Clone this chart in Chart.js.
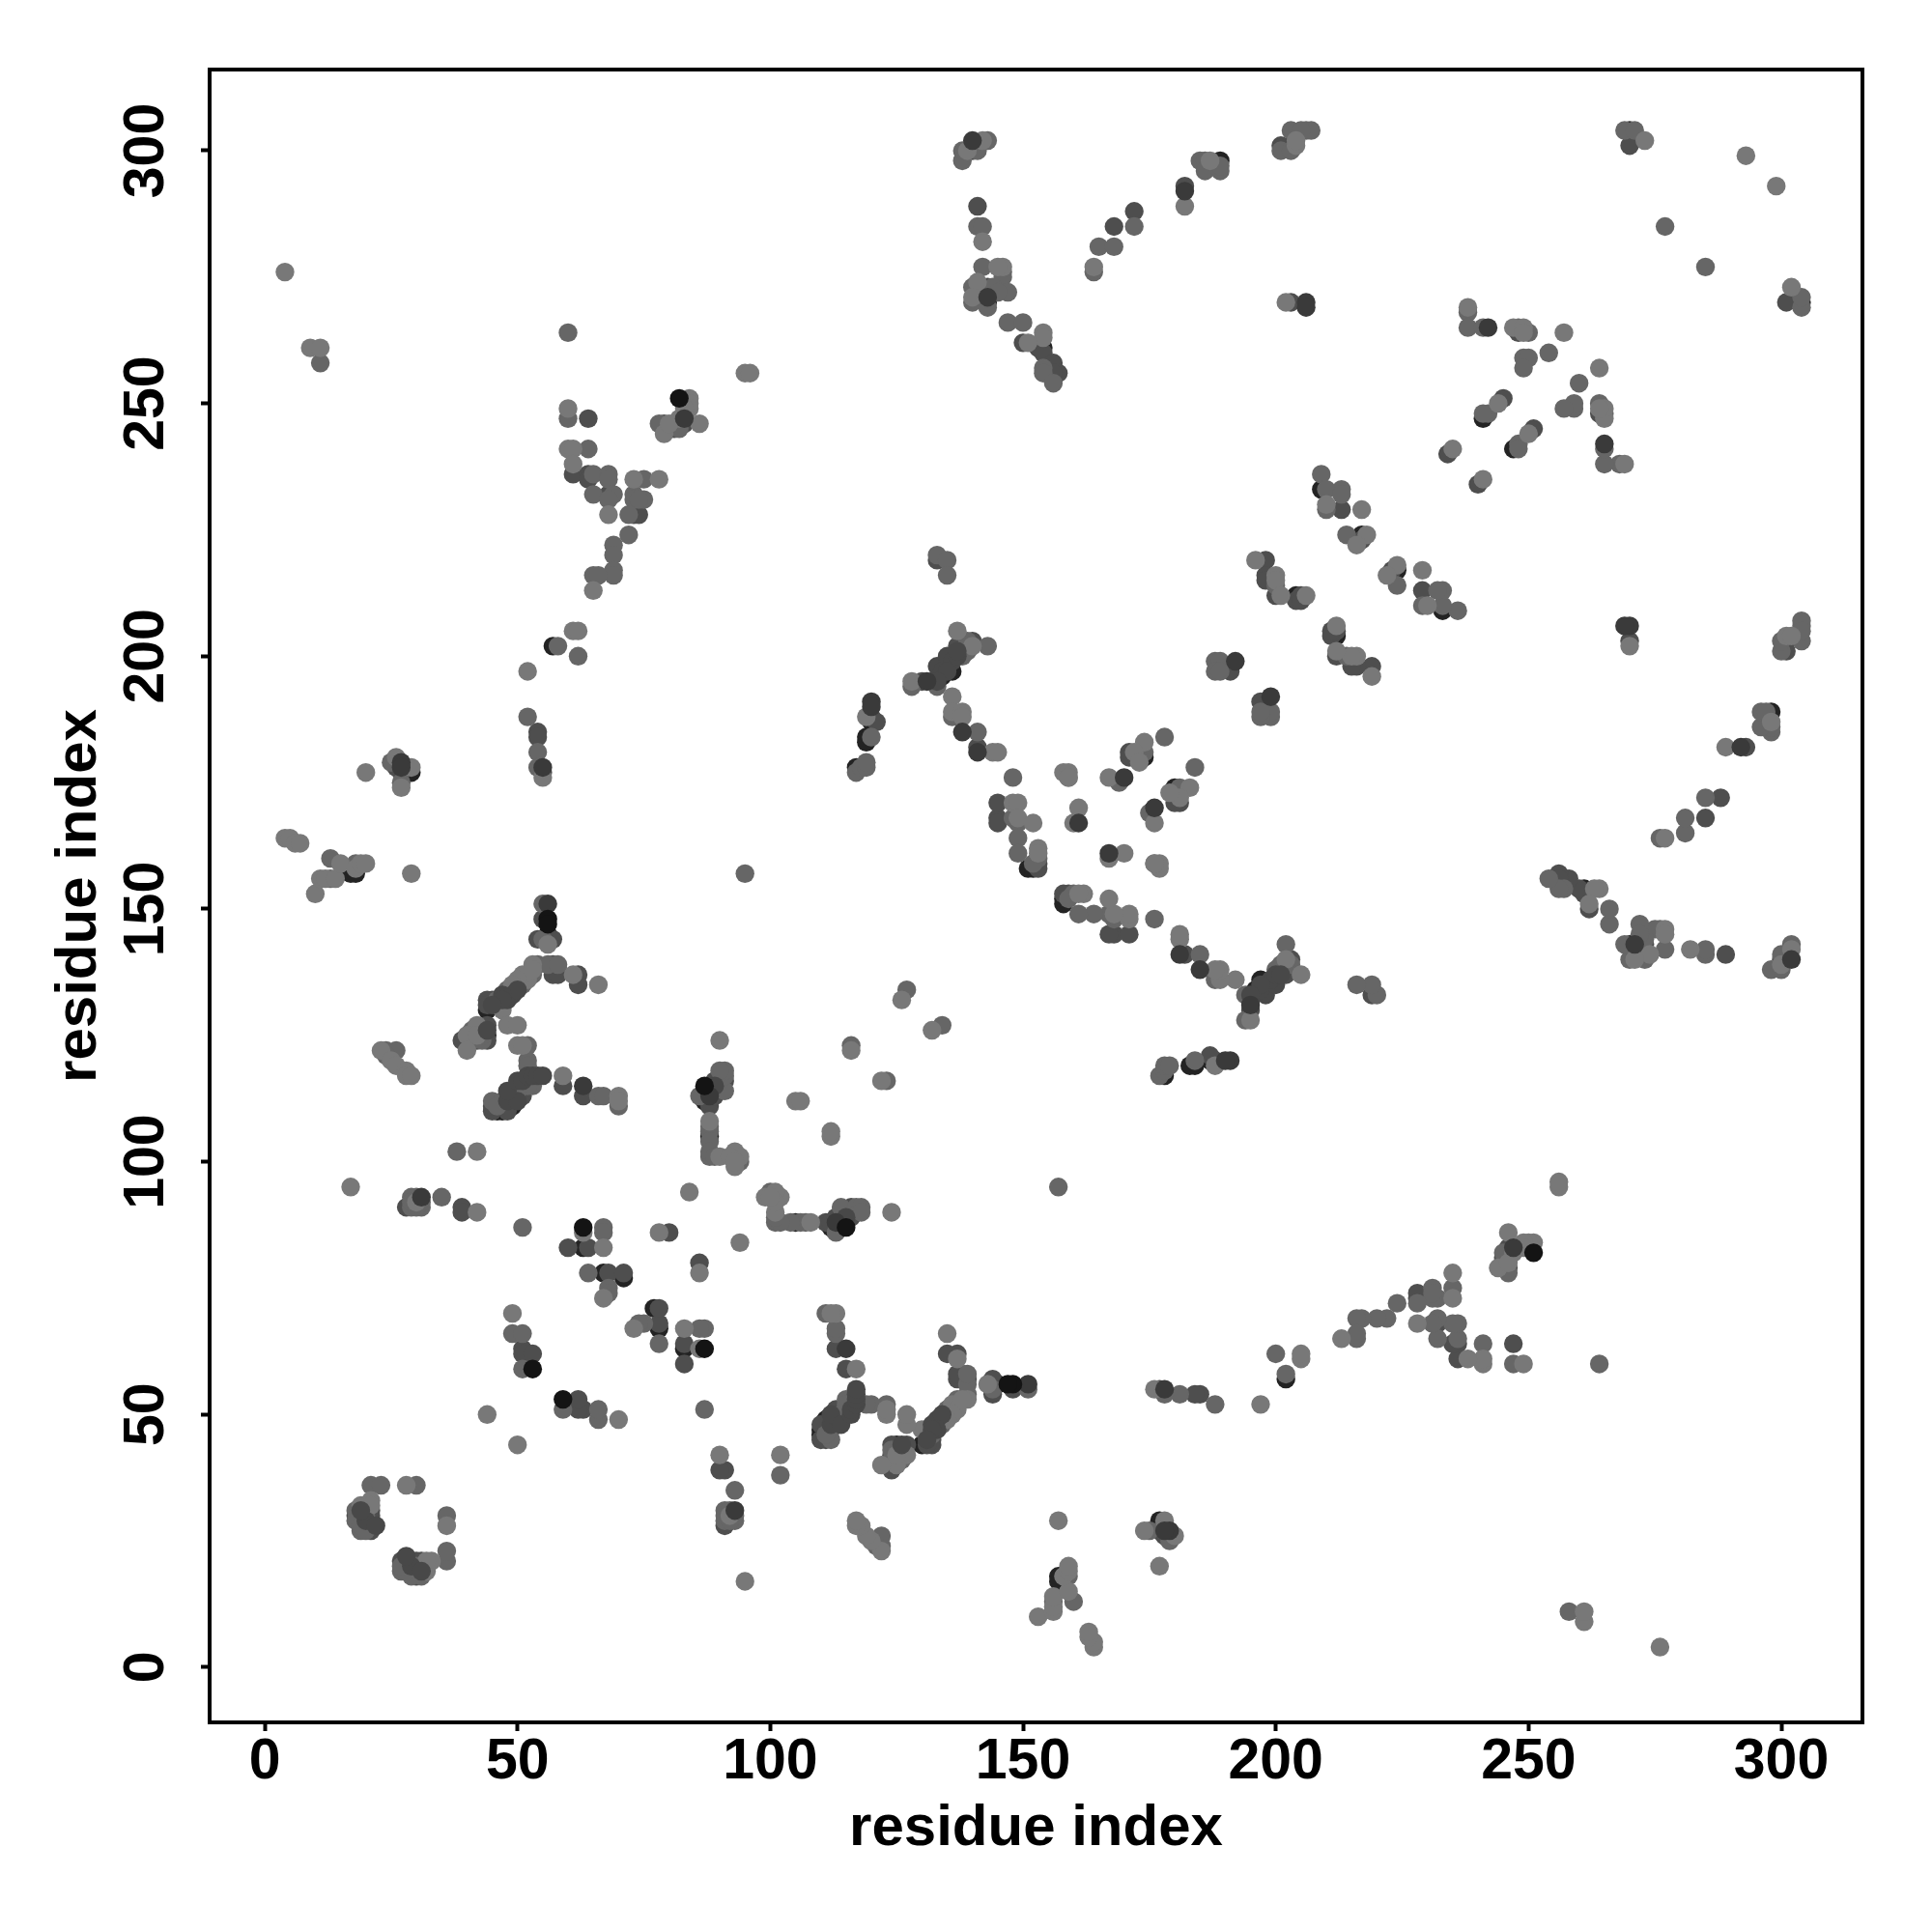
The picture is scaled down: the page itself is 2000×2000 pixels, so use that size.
<!DOCTYPE html>
<html>
<head>
<meta charset="utf-8">
<script src="https://cdn.jsdelivr.net/npm/chart.js@4/dist/chart.umd.min.js"></script>
<style>
    html, body { margin: 0; padding: 0; background: #fff; }
    canvas { display: block; }
</style>
</head>
<body>
<canvas id="myChart" width="2000" height="2000"></canvas>
<script>
// contacts as [i, j] with i < j, the map shows each one on both sides of the diagonal
const tick_values = [0, 50, 100, 150, 200, 250, 300];
const axis_label = 'residue index';

const under_black = [[17,157],[18,157],[28,178],[29,177],[63,83],[67,78],[71,77],[44,130],[44,125],[40,124],[51,114],[46,110],[49,111],[47,110],[49,112],[87,112],[87,113],[87,114],[88,105],[56,145],[57,202],[134,196],[136,197],[120,187],[119,184],[119,183],[117,178],[151,158],[152,158],[174,180],[204,212],[209,233],[217,224],[154,261],[155,258],[156,255],[143,270],[189,298],[203,301],[241,247],[270,304]];

const dark_grey = [[18,30],[20,28],[21,31],[21,30],[21,27],[28,91],[39,91],[39,90],[60,83],[64,83],[68,78],[71,78],[51,63],[51,62],[53,62],[80,86],[26,178],[27,177],[55,148],[54,144],[57,144],[57,139],[58,138],[57,137],[58,137],[62,137],[62,135],[45,132],[44,132],[44,131],[44,127],[44,124],[39,124],[42,124],[45,110],[45,111],[48,110],[51,113],[59,115],[63,113],[88,111],[88,112],[88,115],[89,113],[89,114],[89,116],[90,115],[90,116],[91,116],[64,247],[61,236],[64,236],[64,235],[68,232],[73,228],[74,228],[82,246],[83,246],[79,246],[81,245],[54,185],[54,184],[55,177],[145,168],[145,167],[153,159],[153,158],[139,202],[137,202],[136,200],[134,198],[135,198],[138,202],[133,219],[140,203],[130,195],[120,188],[121,187],[141,182],[171,181],[171,180],[198,219],[198,216],[200,212],[204,211],[205,212],[205,211],[191,197],[198,215],[141,289],[140,300],[141,301],[143,273],[150,262],[153,261],[154,260],[156,258],[157,256],[155,256],[156,256],[168,285],[172,288],[182,293],[201,301],[203,270],[213,229],[217,223],[248,264],[245,251],[234,240],[270,301],[145,171]];

const mid_grey = [[11,258],[13,156],[13,160],[18,159],[25,179],[27,175],[21,36],[23,36],[30,36],[18,31],[18,29],[19,27],[19,28],[20,27],[20,30],[29,93],[31,91],[29,91],[30,91],[30,93],[31,92],[29,92],[35,93],[51,87],[67,87],[67,86],[64,78],[68,75],[68,74],[49,66],[51,66],[51,59],[55,151],[55,144],[54,139],[56,139],[58,139],[52,137],[51,135],[53,137],[48,134],[46,132],[41,126],[41,124],[43,124],[43,125],[52,123],[52,120],[52,119],[53,115],[52,115],[50,114],[49,113],[45,112],[47,112],[46,111],[66,113],[67,113],[70,111],[24,122],[26,122],[24,121],[38,102],[86,113],[91,114],[91,117],[91,118],[90,118],[88,107],[88,106],[88,104],[88,101],[88,102],[89,101],[94,100],[95,157],[60,264],[60,247],[64,241],[65,236],[68,236],[68,235],[65,232],[69,232],[68,231],[75,235],[73,232],[73,231],[75,231],[74,231],[72,228],[72,224],[69,222],[69,220],[69,217],[69,216],[65,216],[66,216],[78,246],[82,245],[58,202],[62,200],[52,188],[54,181],[54,178],[116,123],[127,134],[148,168],[149,167],[149,164],[149,161],[153,160],[152,159],[133,220],[135,219],[135,216],[139,203],[143,202],[132,195],[133,194],[138,200],[139,201],[128,194],[136,188],[141,185],[120,184],[117,177],[118,178],[119,178],[119,179],[148,176],[169,175],[178,184],[174,181],[188,199],[189,199],[188,197],[189,197],[138,298],[138,300],[143,302],[141,300],[141,285],[142,285],[142,277],[146,276],[146,275],[140,273],[144,273],[140,270],[143,269],[147,272],[145,272],[147,266],[150,266],[154,257],[154,256],[156,254],[164,276],[165,281],[168,281],[172,285],[185,298],[186,298],[186,296],[189,296],[189,297],[201,300],[203,304],[203,300],[206,304],[207,304],[205,304],[209,236],[210,233],[213,233],[213,232],[210,229],[214,224],[200,214],[238,268],[238,265],[241,265],[248,265],[250,264],[249,259],[250,259],[249,257],[254,260],[242,248],[241,248],[269,304],[271,304],[277,285]];

const light_grey = [[4,276],[9,261],[11,261],[4,164],[5,164],[6,163],[7,163],[10,153],[11,156],[12,156],[14,156],[15,159],[18,158],[19,159],[20,159],[17,95],[20,177],[26,180],[29,178],[27,174],[29,157],[28,36],[19,32],[21,33],[21,32],[30,92],[42,90],[63,86],[67,83],[67,73],[49,70],[44,50],[78,86],[84,94],[56,143],[53,139],[61,137],[66,135],[52,136],[51,137],[50,136],[49,135],[53,138],[47,130],[48,127],[50,127],[42,127],[40,125],[42,125],[40,122],[50,123],[51,123],[59,117],[70,113],[70,112],[23,122],[25,120],[26,119],[28,118],[28,117],[29,117],[42,102],[90,124],[88,108],[90,101],[93,102],[93,99],[94,101],[92,101],[93,100],[95,256],[96,256],[60,249],[60,241],[61,241],[61,238],[68,228],[73,235],[78,235],[65,213],[84,251],[84,250],[84,249],[83,249],[82,247],[79,244],[80,246],[86,246],[61,205],[62,205],[52,197],[55,176],[116,122],[126,132],[105,112],[106,112],[148,171],[149,171],[149,168],[152,167],[153,162],[153,161],[160,167],[137,205],[140,202],[128,195],[136,192],[136,189],[138,189],[138,188],[144,181],[145,181],[119,188],[158,177],[159,177],[159,176],[167,176],[174,183],[172,181],[173,179],[161,170],[176,159],[196,219],[200,216],[200,215],[201,212],[206,212],[139,300],[142,302],[142,282],[146,277],[145,277],[141,274],[140,271],[154,264],[154,263],[151,262],[164,277],[182,289],[187,298],[204,301],[204,302],[202,270],[210,230],[217,229],[218,224],[216,222],[238,269],[247,265],[249,265],[249,264],[257,264],[244,250],[235,241],[273,302],[293,299]];

const over_dark = [[133,198],[134,197],[135,200],[136,199],[137,200],[135,197],[137,201],[133,195],[48,132],[49,133],[50,134],[47,133],[47,132],[45,131],[44,126],[48,112],[50,112],[48,114],[50,116],[51,116],[52,117],[53,117],[54,117],[55,117],[88,114],[89,115],[20,29],[22,28],[19,31]];

const top_dark = [[31,93],[56,151],[27,179],[27,178],[55,178],[63,115],[131,195],[120,191],[120,190],[138,185],[161,167],[170,176],[140,302],[143,271],[182,292],[206,270],[206,269],[192,199],[242,265],[83,247],[141,181],[88,113]];

const top_black = [[63,87],[53,59],[56,148],[56,147],[82,251],[87,115]];

// drawn from the first entry to the last, each shade over the one before
const shades = [
    { points: under_black, color: '#232323' },
    { points: dark_grey, color: '#4e4e4e' },
    { points: mid_grey, color: '#666666' },
    { points: light_grey, color: '#787878' },
    { points: over_dark, color: '#484848' },
    { points: top_dark, color: '#3a3a3a' },
    { points: top_black, color: '#141414' },
];

const both_sides = pairs => pairs.flatMap(([i, j]) => [{ x: i, y: j }, { x: j, y: i }]);

const frame = {
    id: 'frame',
    afterDraw: chart => {
        const { ctx, chartArea: area } = chart;
        ctx.save();
        ctx.strokeStyle = '#000';
        ctx.lineWidth = 4;
        ctx.strokeRect(area.left, area.top, area.right - area.left, area.bottom - area.top);
        ctx.restore();
    }
};

const font_family = '"Liberation Sans", Arial, sans-serif';

const axis = (title_padding, extra) => ({
    type: 'linear',
    min: -10.9,
    max: 316.05,
    afterBuildTicks: scale => {
        scale.ticks = tick_values.map(value => ({ value }));
    },
    grid: {
        drawOnChartArea: false,
        drawTicks: true,
        tickLength: 9,
        tickWidth: 4,
        tickColor: '#000'
    },
    border: { display: false },
    title: {
        display: true,
        text: axis_label,
        color: '#000',
        padding: title_padding,
        font: { family: font_family, size: 60, weight: 'bold' }
    },
    ...extra
});

new Chart(document.getElementById('myChart').getContext('2d'), {
    type: 'scatter',
    data: {
        datasets: shades.map((shade, index) => ({
            data: both_sides(shade.points),
            backgroundColor: shade.color,
            borderWidth: 0,
            pointRadius: 9.7,
            pointHoverRadius: 9.7,
            order: shades.length - index
        }))
    },
    options: {
        responsive: false,
        animation: false,
        devicePixelRatio: 1,
        layout: { padding: { top: 72, right: 72, left: 0, bottom: 0 } },
        plugins: {
            legend: { display: false },
            tooltip: { enabled: false },
            title: { display: false }
        },
        scales: {
            x: axis({ top: 0, bottom: 71 }, {
                afterFit: scale => { scale.height = 217; },
                ticks: {
                    color: '#000',
                    padding: -3,
                    maxRotation: 0,
                    font: { family: font_family, size: 59, weight: 'bold' }
                }
            }),
            y: axis({ top: 46, bottom: 0 }, {
                afterFit: scale => { scale.width = 217; },
                ticks: {
                    color: '#000',
                    padding: 6,
                    minRotation: 90,
                    maxRotation: 90,
                    crossAlign: 'center',
                    font: { family: font_family, size: 59, weight: 'bold' }
                }
            })
        }
    },
    plugins: [frame]
});
</script>
</body>
</html>
